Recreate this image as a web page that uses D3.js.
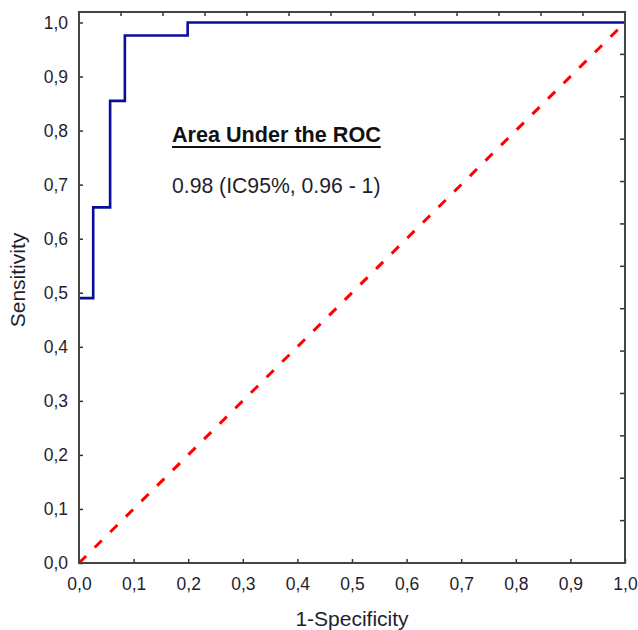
<!DOCTYPE html>
<html>
<head>
<meta charset="utf-8">
<script src="https://cdn.jsdelivr.net/npm/d3@7/dist/d3.min.js"></script>
<style>
  body { margin: 0; background: #fff; }
  svg { display: block; font-family: "Liberation Sans", Arial, sans-serif; }
</style>
</head>
<body>
<svg id="chart" width="638" height="630"></svg>
<script>
// ROC curve data
const fpr = [0, 0.026, 0.057, 0.084, 0.199, 1.0];
const tpr = [0.49, 0.658, 0.855, 0.976, 1.0, 1.0];
const ticks = [0, 0.1, 0.2, 0.3, 0.4, 0.5, 0.6, 0.7, 0.8, 0.9, 1.0];
const aucTitle = 'Area Under the ROC';
const aucText = '0.98 (IC95%, 0.96 - 1)';

const svg = d3.select('#chart');
const padL = 79, padR = 625, padT = 12, padB = 563;

const x = d3.scaleLinear().domain([0, 1]).range([padL, padR]);
const y = d3.scaleLinear().domain([0, 1.0194]).range([padB, padT]);
const fmt = d => d.toFixed(1).replace('.', ',');

// bottom axis (ticks inward)
const xAxis = svg.append('g')
    .attr('transform', `translate(0,${padB})`)
    .call(d3.axisBottom(x).tickValues(ticks).tickSizeInner(-4).tickSizeOuter(0).tickPadding(10).tickFormat(fmt));

// left axis (ticks inward)
const yAxis = svg.append('g')
    .attr('transform', `translate(${padL},0)`)
    .call(d3.axisLeft(y).tickValues(ticks).tickSizeInner(-4).tickSizeOuter(0).tickPadding(10).tickFormat(fmt));

[xAxis, yAxis].forEach(a => {
    a.select('.domain').remove();
    a.selectAll('.tick line').attr('stroke', '#333').attr('stroke-width', 1.5);
    a.selectAll('.tick text').attr('fill', '#1e1e2e').style('font-size', '17.5px');
});
yAxis.selectAll('.tick text').attr('dx', '-1');
xAxis.selectAll('.tick text').attr('dy', '0.95em');

// secondary ticks on top and right edges
const sec = d3.range(1, 13);
const sx = d3.scaleLinear().domain([0, 13]).range([padL, padR]);
const sy = d3.scaleLinear().domain([0, 13]).range([padB, padT]);
svg.append('g').selectAll('line').data(sec).join('line')
    .attr('x1', d => sx(d)).attr('x2', d => sx(d))
    .attr('y1', padT).attr('y2', padT + 4)
    .attr('stroke', '#333').attr('stroke-width', 1.5);
svg.append('g').selectAll('line').data(sec).join('line')
    .attr('y1', d => sy(d)).attr('y2', d => sy(d))
    .attr('x1', padR).attr('x2', padR - 5)
    .attr('stroke', '#333').attr('stroke-width', 1.5);

// reference diagonal
svg.append('line')
    .attr('x1', x(0)).attr('y1', y(0))
    .attr('x2', x(1)).attr('y2', y(1))
    .attr('stroke', '#ff0000')
    .attr('stroke-width', 3)
    .attr('stroke-dasharray', '10,12');

// ROC step curve
const line = d3.line()
    .x(d => x(d[0]))
    .y(d => y(d[1]))
    .curve(d3.curveStepAfter);
svg.append('path')
    .datum(fpr.map((f, i) => [f, tpr[i]]))
    .attr('d', line)
    .attr('fill', 'none')
    .attr('stroke', '#0c0c9c')
    .attr('stroke-width', 2.6);

// frame
svg.append('rect')
    .attr('x', padL).attr('y', padT)
    .attr('width', padR - padL).attr('height', padB - padT)
    .attr('fill', 'none')
    .attr('stroke', '#444')
    .attr('stroke-width', 2);

// annotation
const title = svg.append('text')
    .attr('x', 172).attr('y', 142)
    .attr('font-size', 21.6).attr('font-weight', 'bold')
    .attr('fill', '#111')
    .text(aucTitle);
const tw = title.node().getComputedTextLength();
svg.append('line')
    .attr('x1', 172).attr('x2', 172 + tw)
    .attr('y1', 147).attr('y2', 147)
    .attr('stroke', '#111').attr('stroke-width', 2);
svg.append('text')
    .attr('x', 172).attr('y', 193)
    .attr('font-size', 21.2)
    .attr('fill', '#1e1e2e')
    .text(aucText);

// axis titles
svg.append('text')
    .attr('x', (padL + padR) / 2).attr('y', 626)
    .attr('text-anchor', 'middle')
    .attr('font-size', 21)
    .attr('fill', '#1e1e2e')
    .text('1-Specificity');
svg.append('text')
    .attr('transform', 'translate(25,280) rotate(-90)')
    .attr('text-anchor', 'middle')
    .attr('font-size', 21)
    .attr('fill', '#1e1e2e')
    .text('Sensitivity');
</script>
</body>
</html>
